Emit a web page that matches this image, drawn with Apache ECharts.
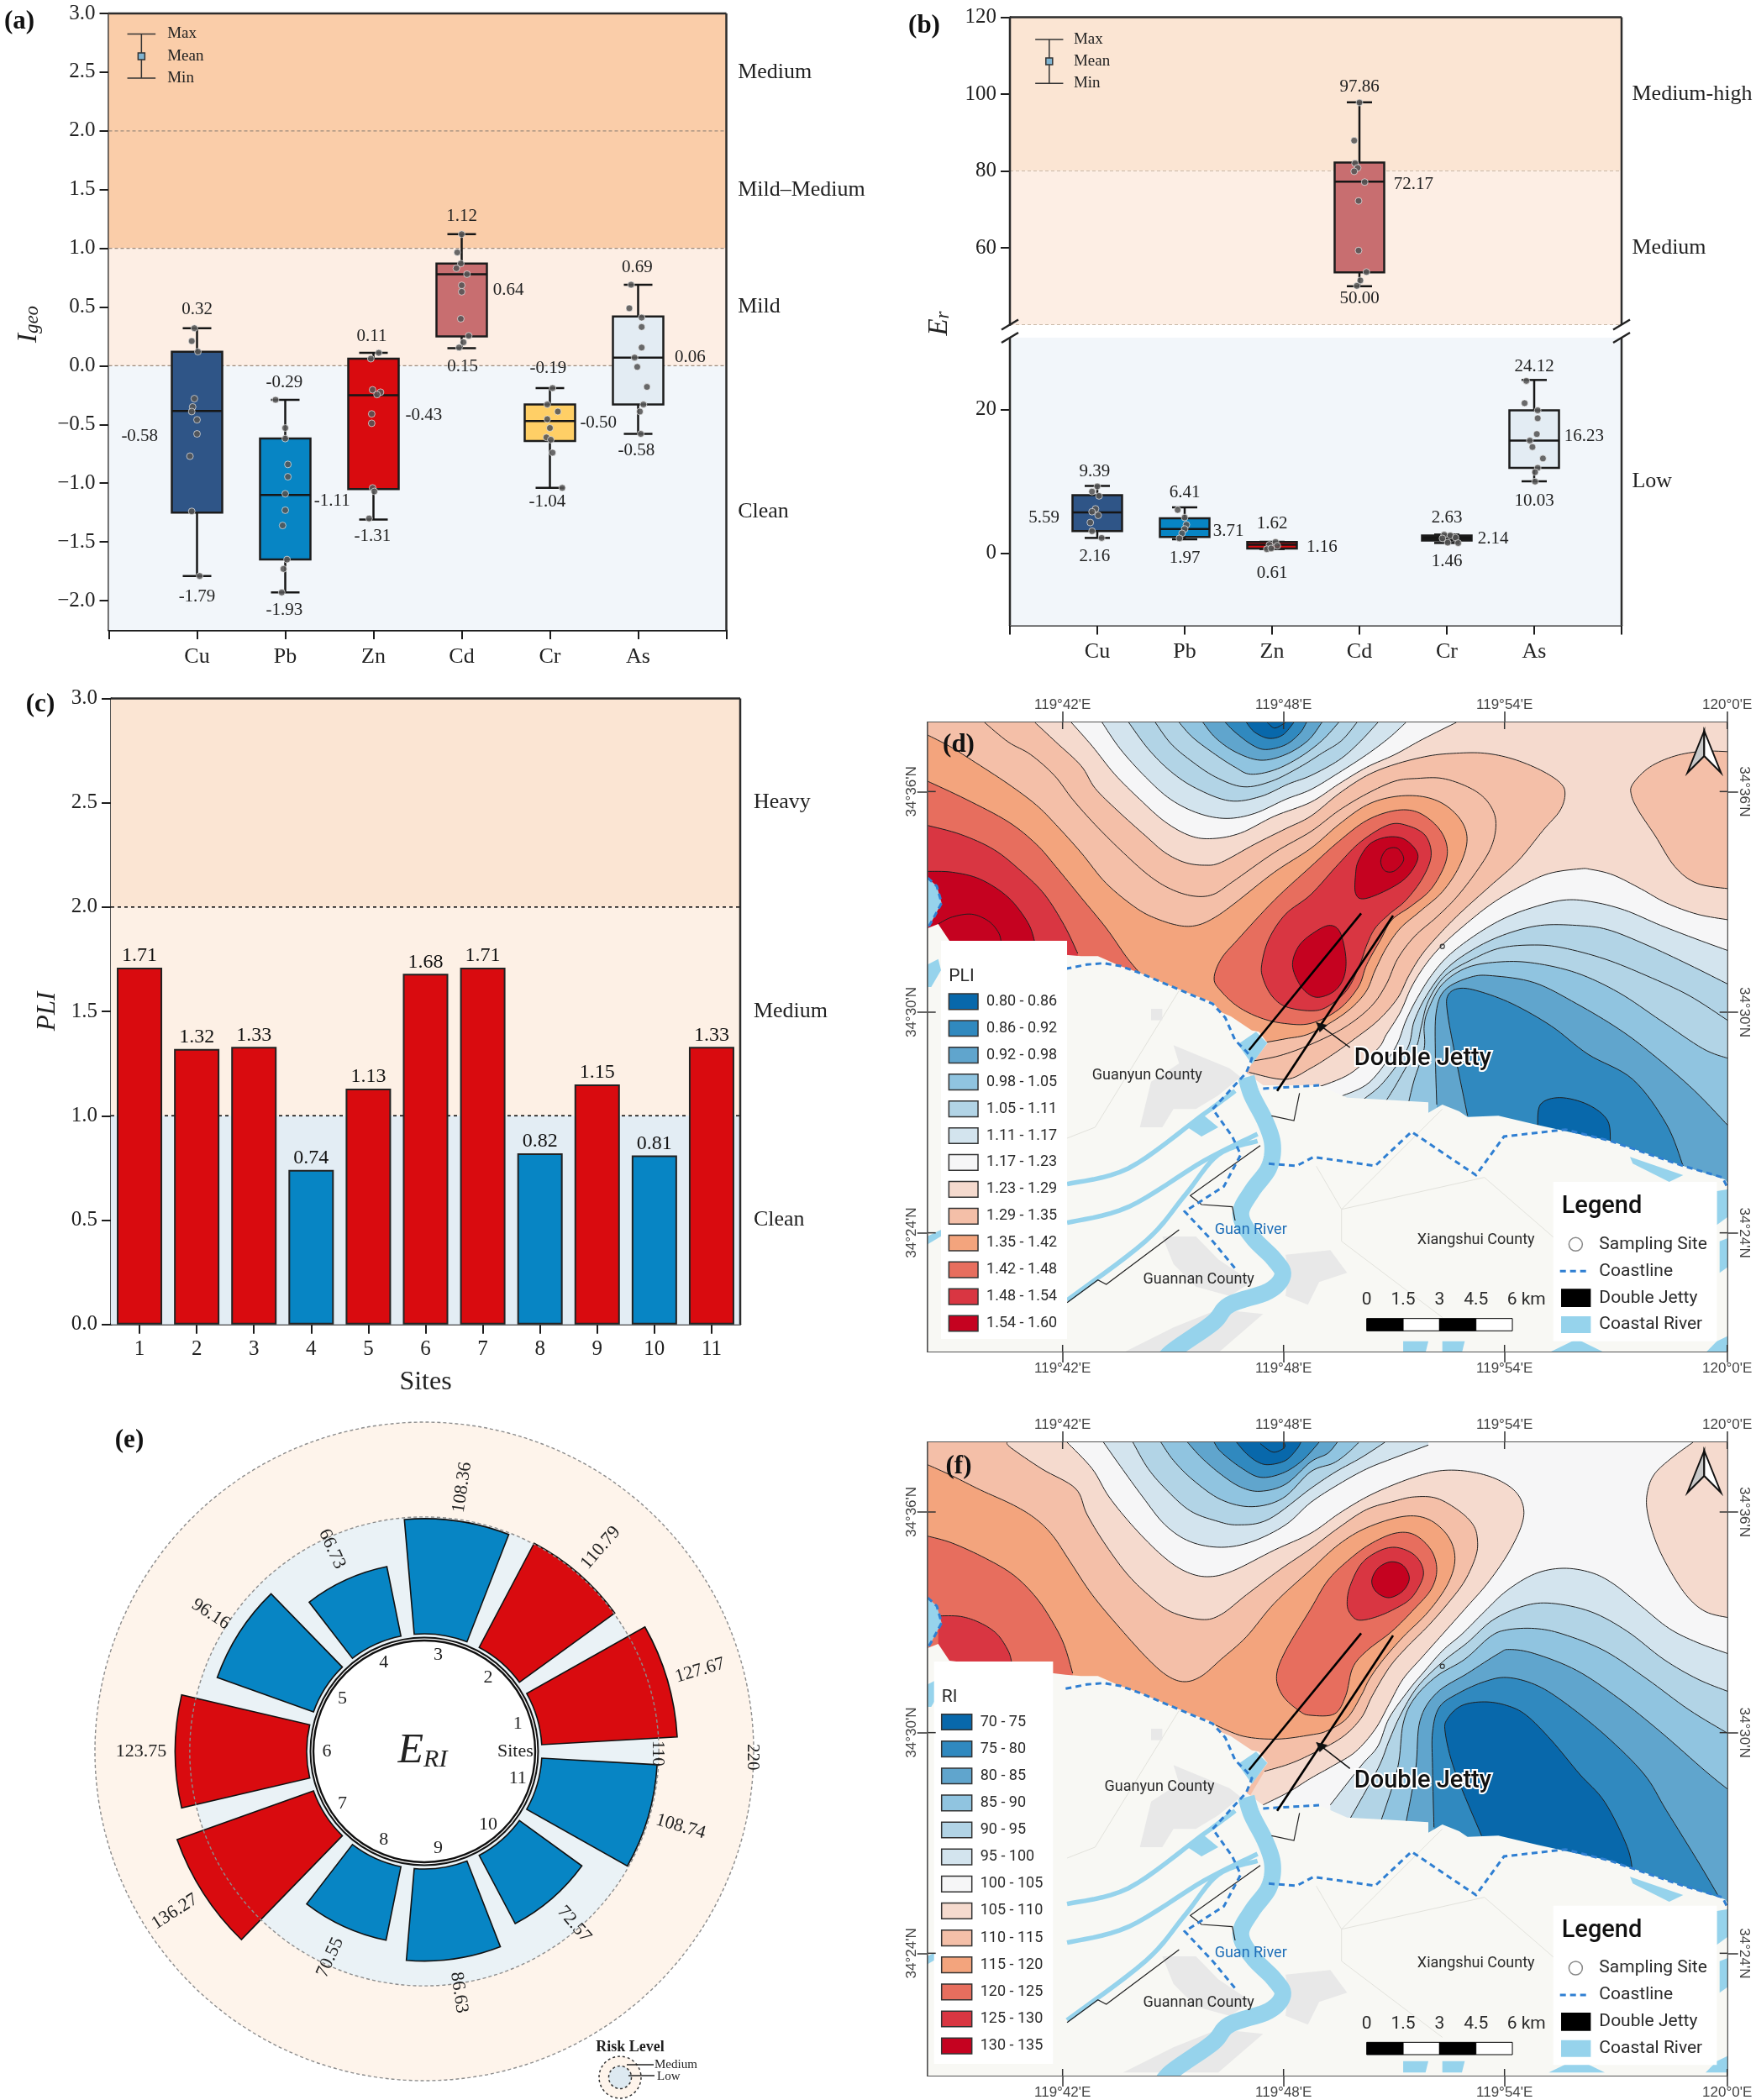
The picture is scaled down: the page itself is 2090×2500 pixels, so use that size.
<!DOCTYPE html>
<html><head><meta charset="utf-8">
<style>html,body{margin:0;padding:0;background:#fff}#c{width:2090px;height:2500px}</style>
<script src="https://cdn.jsdelivr.net/npm/echarts@6/dist/echarts.min.js"></script>
</head><body><div id="c"></div>
<script>
/* ---------- panel (a) Igeo ---------- */
const elements=['Cu','Pb','Zn','Cd','Cr','As'];
const elementColors=['#2F5587','#0785C4','#D90B0F','#C86E70','#FFCF66','#E3ECF3'];
const igeoBoxes=[[1,-1.79,-1.25,-0.385,0.12,0.32],[2,-1.93,-1.65,-1.10,-0.62,-0.29],[3,-1.31,-1.05,-0.25,0.06,0.11],[4,0.15,0.25,0.78,0.87,1.12],[5,-1.04,-0.64,-0.47,-0.33,-0.19],[6,-0.58,-0.33,0.07,0.42,0.69]];
const igeoPoints=[[.97,.32],[.94,.21],[1.01,.12],[.97,-.28],[.95,-.35],[.94,-.39],[1,-.46],[1,-.58],[.92,-.77],[.94,-1.24],[1.03,-1.79],
[1.89,-.29],[2,-.53],[2,-.62],[2.03,-.84],[2.03,-.945],[2,-1.09],[2,-1.23],[1.97,-1.36],[2.02,-1.65],[1.98,-1.73],[1.96,-1.93],
[3.06,.11],[2.97,.06],[2.99,-.205],[3.08,-.225],[3.04,-.245],[2.98,-.41],[2.98,-.49],[2.99,-1.04],[3.01,-1.07],[2.95,-1.30],
[4,1.12],[3.95,.965],[3.99,.87],[3.94,.83],[4.06,.78],[4,.685],[4,.63],[3.99,.40],[4.08,.255],[4.02,.2],[3.97,.155],
[5.03,-.19],[4.97,-.33],[5.09,-.39],[4.97,-.455],[5,-.53],[4.96,-.61],[5.01,-.63],[5.03,-.74],[5.14,-1.04],
[5.92,.69],[5.9,.49],[6.04,.41],[6.04,.33],[6.04,.155],[5.96,.07],[5.99,-.01],[6.1,-.18],[6.06,-.33],[6.02,-.39],[6.03,-.58]];
const igeoLabels=[[1,.478,'0.32'],[1,-1.965,'-1.79'],[.35,-.6,'-0.58'],[1.99,-.14,'-0.29'],[1.99,-2.085,'-1.93'],[2.53,-1.15,'-1.11'],[2.98,.25,'0.11'],[2.99,-1.455,'-1.31'],[3.57,-.42,'-0.43'],[4,1.27,'1.12'],[4.01,-.01,'0.15'],[4.53,.64,'0.64'],[4.98,-.025,'-0.19'],[4.97,-1.16,'-1.04'],[5.55,-.49,'-0.50'],[5.99,.84,'0.69'],[5.98,-.72,'-0.58'],[6.59,.07,'0.06']];
const igeoLevels=[[7.13,2.5,'Medium'],[7.13,1.5,'Mild–Medium'],[7.13,.5,'Mild'],[7.13,-1.24,'Clean']];
const igeoBands=[[1,3,'#FACDA9'],[0,1,'#FDEEE4'],[-2.25,0,'#F2F6FA']];
const igeoTicks=[-2,-1.5,-1,-.5,0,.5,1,1.5,2,2.5,3];
const igeoMinor=[-1.75,-1.25,-.75,-.25,.25,.75,1.25,1.75,2.25,2.75];

/* ---------- panel (b) Er ---------- */
const erBoxHigh=[[4,50,53.6,77.2,82.2,97.86]];
const erBoxHighColors=['#C86E70'];
const erBoxLow=[[1,2.16,3.1,5.7,8.1,9.39],[2,1.97,2.3,3.4,4.9,6.41],[3,.61,.7,1.2,1.6,1.62],[5,1.46,1.8,2.1,2.5,2.63],[6,10.03,11.9,15.7,19.9,24.12]];
const erBoxLowColors=['#2F5587','#0785C4','#D90B0F','#141414','#E3ECF3'];
const erPointsHigh=[[4,97.8],[3.94,87.9],[3.95,82],[3.98,80.8],[3.94,79.9],[4.06,77.1],[3.99,72.2],[3.99,59.3],[4.08,53.7],[4.01,51.5],[3.97,50.1]];
const erPointsLow=[[1,9.32],[.94,8.6],[1.02,8],[.98,6.2],[.94,5.8],[1.01,5.3],[.92,4.3],[.94,3.1],[1.05,2.16],
[1.92,6.05],[2,5],[2.02,4],[2,3.4],[1.97,2.8],[1.94,2.1],
[3.04,1.6],[2.97,1.2],[3.06,1.07],[2.94,.6],[2.99,.7],
[4.97,2.6],[5.04,2.5],[4.95,2.1],[5.1,2.2],[5.01,1.5],[5.13,1.45],
[5.91,24],[5.89,20.9],[6.04,19.9],[6.04,18.8],[6.03,16.6],[5.95,15.7],[5.98,14.8],[6.1,13.2],[6.04,11.9],[6.01,11.3],[6.01,10]];
const erLabelsLow=[[.97,11.4,'9.39'],[.97,-.47,'2.16'],[.39,5,'5.59'],[2,8.43,'6.41'],[2,-.6,'1.97'],[2.5,3.09,'3.71'],[3,4.15,'1.62'],[3,-2.73,'0.61'],[3.57,.83,'1.16'],[5,4.93,'2.63'],[5,-1.07,'1.46'],[5.53,2.08,'2.14'],[6,26,'24.12'],[6,7.24,'10.03'],[6.57,16.26,'16.23']];
const erLabelsHigh=[[4,101.8,'97.86'],[4,46.7,'50.00'],[4.62,76.5,'72.17']];
const erLevelsHigh=[[7.12,100,'Medium-high'],[7.12,60,'Medium']];
const erLevelsLow=[[7.12,10,'Low']];
const erBandsHigh=[[80,120,'#FBE5D3'],[40,80,'#FDEEE4']];
const erBandsLow=[[-10,30,'#F2F6FA']];

/* ---------- panel (c) PLI ---------- */
const sites=['1','2','3','4','5','6','7','8','9','10','11'];
const pliValues=[1.71,1.32,1.33,.74,1.13,1.68,1.71,.82,1.15,.81,1.33];
const pliBands=[[2,3,'#FBE5D3'],[1,2,'#FDF0E5'],[0,1,'#E3EDF4']];
const pliLevels=[[10,2.5,'Heavy'],[10,1.5,'Medium'],[10,.5,'Clean']];
const RED='#D90B0F',BLUE='#0785C4';

/* ---------- panel (e) ERI ---------- */
const eriValues=[127.67,110.79,108.36,66.73,96.16,123.75,136.27,70.55,86.63,72.57,108.74];
const eriLowLimit=110, eriOuter=199.2;

/* ---------- panels (d)(f) contour maps: positions are map units ---------- */
const pliRanges=['0.80 - 0.86','0.86 - 0.92','0.92 - 0.98','0.98 - 1.05','1.05 - 1.11','1.11 - 1.17','1.17 - 1.23','1.23 - 1.29','1.29 - 1.35','1.35 - 1.42','1.42 - 1.48','1.48 - 1.54','1.54 - 1.60'];
const riRanges=['70 - 75','75 - 80','80 - 85','85 - 90','90 - 95','95 - 100','100 - 105','105 - 110','110 - 115','115 - 120','120 - 125','125 - 130','130 - 135'];
const ramp=['#0868AB','#3089BF','#60A5CD','#90C4E0','#B2D4E6','#D3E4EE','#F6F6F7','#F5DACE','#F4BFA8','#F3A47D','#E76E5E','#D93642','#C50220'];
const lonTicks=[[494,"119°42'E"],[1283,"119°48'E"],[2072,"119°54'E"],[2867,"120°0'E"]];
const latTicksD=[[262,"34°36'N"],[1050,"34°30'N"],[1838,"34°24'N"]];
const latTicksF=[[264,"34°36'N"],[1052,"34°30'N"],[1840,"34°24'N"]];

const land=[[0,760],[12,750],[50,735],[90,795],[505,845],[560,850],[620,850],[700,885],[770,910],[900,965],[1030,1015],[1060,1050],[1095,1065],[1170,1115],[1195,1120],[1226,1160],[1170,1233],[1150,1266],[1210,1311],[1410,1311],[1510,1355],[1650,1363],[1800,1372],[1800,1409],[1850,1380],[1910,1404],[1940,1424],[2050,1420],[2190,1453],[2450,1510],[2710,1599],[2860,1648],[2884,1680],[2900,2320],[0,2320]];
const riverMain=[[1150,1282],[1170,1347],[1220,1445],[1244,1526],[1230,1607],[1170,1689],[1130,1770],[1170,1851],[1250,1933],[1280,1989],[1230,2046],[1090,2095],[1030,2160],[890,2258],[850,2300]];
const riverBranches=[[[1110,1331],[990,1420],[730,1607],[510,1664]],[[1190,1485],[1000,1580],[730,1745],[510,1802]],[[1190,1510],[1050,1559],[930,1705],[790,1868],[510,2079]]];
const waterPatches=[[[1120,1165],[1185,1120],[1225,1160],[1170,1235]],[[12,570],[45,600],[62,660],[30,720],[12,750],[0,750],[0,570]],[[12,880],[50,860],[60,900],[25,960],[12,960]],[[940,1461],[1000,1420],[1050,1461],[990,1494]],[[2520,1567],[2710,1632],[2660,1656],[2530,1591]],[[1710,2225],[1800,2225],[1790,2266],[1710,2266]],[[1850,2225],[1930,2225],[1920,2266],[1850,2266]],[[2830,1689],[2884,1680],[2884,1770],[2830,1810]],[[2840,1868],[2884,1851],[2884,1950],[2840,1981]],[[2830,2225],[2884,2200],[2884,2266],[2790,2266]],[[2230,2266],[2330,2217],[2430,2266]],[[10,1851],[60,1827],[60,1850],[10,1880]]];
const builtUp=[[[890,1168],[1090,1250],[1130,1282],[1050,1347],[970,1396],[890,1396],[850,1461],[770,1461],[810,1298],[910,1233]],[[810,1038],[850,1038],[850,1079],[810,1079]],[[850,1851],[970,1851],[1050,1933],[1170,2014],[1090,2063],[970,2030],[890,1949]],[[1290,1916],[1450,1900],[1510,1981],[1410,2014],[1370,2095],[1290,2063],[1300,1981]],[[1050,2111],[1210,2128],[1050,2266],[710,2266],[890,2176]]];
const roads=[[[910,973],[610,1461]],[[1850,1396],[1490,1754],[1490,1868],[1850,2140]],[[1490,1754],[2000,1640],[2300,1900],[2550,2100]],[[610,1461],[510,1500]],[[1400,1600],[1490,1754]]];
const coastDashes=[[[505,895],[580,880],[640,875],[700,885],[770,910],[900,965],[1030,1020],[1075,1070],[1110,1150],[1150,1190],[1170,1215],[1150,1266],[1030,1396],[1100,1494],[1130,1559],[1070,1672],[930,1762],[1030,1868],[1110,1965]],[[1210,1323],[1410,1311]],[[1230,1591],[1330,1599],[1390,1567],[1610,1599],[1740,1477],[1970,1632],[2070,1494],[2290,1469],[2450,1510],[2710,1599],[2850,1640],[2870,1680]],[[12,570],[45,600],[62,660],[30,720],[12,750]]];
const boundaries=[[[1340,1339],[1320,1437],[1240,1420]],[[1200,1526],[950,1705],[990,1737],[1100,1745],[1110,1794]],[[910,1827],[650,2022],[620,2006],[510,2087]]];
const jetties=[[[1560,697],[1160,1185]],[[1674,705],[1260,1331]]];
const scaleMarks=[[1580,'0'],[1710,'1.5'],[1840,'3'],[1970,'4.5'],[2150,'6 km']];

/* contour layers: [ramp index, contour line, closing path or null when the contour is a closed loop] */
const pliContours=[
 [8,[[2880,120],[2780,118],[2680,135],[2590,175],[2530,235],[2525,275],[2550,330],[2610,420],[2680,530],[2760,590],[2880,610]],[[2950,610],[2950,120]]],
 [8,[[395,15],[470,85],[560,170],[610,250],[690,330],[790,420],[860,480],[930,515],[1000,525],[1060,515],[1180,450],[1290,395],[1380,350],[1480,270],[1580,205],[1680,165],[1800,135],[1900,125],[2000,125],[2100,145],[2200,185],[2270,230],[2288,270],[2270,330],[2210,400],[2120,510],[2020,600],[1920,690],[1850,760],[1780,840],[1730,920],[1690,1000],[1620,1080],[1530,1150],[1460,1200],[1380,1250],[1290,1290],[1160,1265]],[[1100,1400],[-20,1400],[-20,-20],[395,-20]]],
 [8,[[215,15],[300,85],[380,130],[465,205],[530,290],[610,380],[700,470],[800,560],[880,610],[960,635],[1030,630],[1100,585],[1250,480],[1380,405],[1480,330],[1580,270],[1680,225],[1760,215],[1850,215],[1940,245],[2000,285],[2035,340],[2040,400],[2020,470],[1970,550],[1900,640],[1830,710],[1750,780],[1690,860],[1650,950],[1595,1030],[1500,1105],[1380,1165],[1270,1205],[1170,1225]],[[1100,1400],[-20,1400],[-20,-20],[215,-20]]],
 [9,[[12,60],[90,100],[170,150],[300,235],[400,310],[470,380],[560,480],[650,590],[760,680],[840,720],[920,742],[980,738],[1040,710],[1110,660],[1250,550],[1380,465],[1480,380],[1580,310],[1680,280],[1780,280],[1860,310],[1920,370],[1938,440],[1910,530],[1850,620],[1770,690],[1700,750],[1650,820],[1610,900],[1575,980],[1500,1055],[1380,1125],[1290,1145],[1205,1160]],[[1190,1200],[-20,1300],[-20,60]]],
 [10,[[12,225],[150,290],[300,370],[400,450],[470,530],[560,640],[650,750],[720,850],[765,905]],[[765,1000],[-20,1000],[-20,225]]],
 [11,[[12,383],[130,415],[250,470],[350,550],[430,630],[500,740],[548,840]],[[548,950],[-20,950],[-20,383]]],
 [12,[[12,547],[100,550],[200,575],[300,640],[370,730],[395,800]],[[395,900],[-20,900],[-20,547]]],
 [12,[[50,735],[100,710],[170,700],[230,725],[265,765],[275,800]],[[275,900],[50,900]]],
 [10,[[1035,930],[1060,860],[1120,790],[1250,650],[1380,530],[1480,440],[1580,365],[1680,330],[1760,335],[1830,385],[1865,450],[1860,520],[1810,610],[1740,670],[1670,720],[1630,790],[1580,880],[1550,960],[1480,1040],[1380,1090],[1285,1090],[1200,1070],[1120,1030],[1060,975]],null],
 [11,[[1205,880],[1230,790],[1290,700],[1380,630],[1480,520],[1560,440],[1660,380],[1730,385],[1790,420],[1810,490],[1780,570],[1720,650],[1660,700],[1610,750],[1580,810],[1555,880],[1510,970],[1440,1030],[1380,1045],[1290,1030],[1240,990],[1210,930]],null],
 [12,[[1540,560],[1550,510],[1590,450],[1650,425],[1710,430],[1755,470],[1760,510],[1720,570],[1650,615],[1570,645],[1540,625]],null],
 [12,[[1630,510],[1650,470],[1690,465],[1712,505],[1680,545],[1645,545]],null],
 [12,[[1315,880],[1340,810],[1400,760],[1450,740],[1485,765],[1505,850],[1500,920],[1470,970],[1420,995],[1380,990],[1340,950]],null],
 [6,[[525,15],[600,100],[680,200],[770,290],[860,370],[950,420],[1030,430],[1130,410],[1250,350],[1380,300],[1480,235],[1580,175],[1680,130],[1780,75],[1900,15]],[[1900,-20],[525,-20]]],
 [5,[[635,15],[700,110],[790,210],[880,290],[980,340],[1080,358],[1180,340],[1290,290],[1380,255],[1480,195],[1580,130],[1660,70],[1720,15]],[[1720,-20],[635,-20]]],
 [4,[[730,15],[800,110],[880,190],[970,250],[1090,295],[1200,280],[1300,235],[1380,205],[1480,150],[1550,90],[1620,15]],[[1620,-20],[730,-20]]],
 [4,[[825,15],[880,90],[950,150],[1040,210],[1140,245],[1240,225],[1340,175],[1420,125],[1490,80],[1545,15]],[[1545,-20],[825,-20]]],
 [3,[[910,15],[960,70],[1040,130],[1110,175],[1165,200],[1250,185],[1340,140],[1420,80],[1480,15]],[[1480,-20],[910,-20]]],
 [2,[[995,15],[1040,70],[1110,120],[1200,150],[1290,130],[1370,80],[1420,15]],[[1420,-20],[995,-20]]],
 [1,[[1075,15],[1110,50],[1170,95],[1220,112],[1290,95],[1340,55],[1365,15]],[[1365,-20],[1075,-20]]],
 [0,[[1150,15],[1180,50],[1230,72],[1280,60],[1320,15]],[[1320,-20],[1150,-20]]],
 [0,[[1225,15],[1250,35],[1280,22],[1290,15]],[[1290,-20],[1225,-20]]],
 [6,[[2870,720],[2760,700],[2650,660],[2560,610],[2460,560],[2380,540],[2340,538],[2230,555],[2130,600],[2030,660],[1940,730],[1850,810],[1790,880],[1740,960],[1700,1050],[1650,1130],[1620,1180],[1520,1270],[1400,1320]],[[1400,1500],[2950,2100],[2950,720]]],
 [5,[[2870,830],[2760,790],[2630,740],[2500,685],[2380,655],[2280,650],[2160,680],[2060,720],[1960,780],[1870,850],[1810,920],[1760,1000],[1720,1080],[1680,1180],[1590,1300],[1490,1350]],[[1490,1500],[2950,2100],[2950,830]]],
 [4,[[2870,950],[2730,880],[2580,810],[2440,755],[2330,740],[2200,740],[2080,770],[1970,820],[1870,890],[1800,980],[1750,1080],[1725,1180],[1640,1300],[1570,1360]],[[1570,1500],[2950,2100],[2950,950]]],
 [4,[[2870,1080],[2730,990],[2580,920],[2430,860],[2280,820],[2180,810],[2060,820],[1960,860],[1860,920],[1800,1010],[1775,1100],[1755,1180],[1690,1300],[1650,1365]],[[1650,1500],[2950,2100],[2950,1080]]],
 [3,[[2870,1215],[2780,1180],[2630,1080],[2480,980],[2330,910],[2180,875],[2060,870],[1940,890],[1850,950],[1800,1040],[1785,1100],[1785,1180],[1750,1290],[1730,1370]],[[1730,1500],[2950,2100],[2950,1215]]],
 [2,[[2884,1470],[2750,1330],[2600,1200],[2480,1110],[2330,1020],[2180,945],[2030,920],[1950,925],[1860,970],[1828,1050],[1825,1200],[1830,1380]],[[1830,1500],[2950,2100],[2950,1470]]],
 [1,[[2710,1600],[2650,1450],[2530,1290],[2370,1200],[2240,1100],[2100,1020],[1980,975],[1910,965],[1870,990],[1868,1050],[1895,1200],[1940,1420]],[[1940,1550],[2710,1700]]],
 [0,[[2190,1461],[2200,1380],[2270,1355],[2370,1380],[2440,1437],[2450,1520]],[[2190,1520]]]
];
const riContours=[
 [7,[[2745,15],[2670,70],[2610,125],[2585,180],[2580,250],[2605,350],[2650,450],[2720,560],[2790,620],[2880,643]],[[2950,643],[2950,-20],[2745,-20]]],
 [7,[[510,15],[600,110],[660,210],[750,320],[850,420],[930,475],[1010,495],[1100,475],[1250,400],[1380,340],[1480,270],[1580,210],[1680,165],[1780,130],[1860,115],[1950,120],[2040,145],[2110,190],[2140,250],[2130,320],[2080,420],[2010,520],[1940,600],[1860,690],[1780,780],[1710,860],[1660,950],[1610,1040],[1540,1120],[1460,1170],[1380,1215],[1300,1265],[1210,1310]],[[1100,1400],[-20,1400],[-20,-20],[510,-20]]],
 [8,[[295,15],[310,35],[420,110],[540,180],[580,270],[640,370],[720,480],[800,560],[880,620],[990,648],[1060,630],[1150,560],[1270,470],[1380,395],[1480,320],[1580,255],[1680,225],[1750,210],[1830,215],[1910,260],[1960,310],[1975,360],[1970,420],[1930,510],[1870,590],[1800,670],[1720,750],[1660,820],[1600,920],[1560,1000],[1490,1070],[1380,1130],[1300,1165],[1215,1190]],[[1150,1300],[-20,1300],[-20,-20],[295,-20]]],
 [9,[[12,95],[100,135],[200,185],[320,240],[400,290],[460,350],[520,440],[600,560],[700,680],[800,790],[870,850],[930,870],[990,850],[1060,790],[1150,710],[1250,590],[1380,470],[1480,380],[1580,320],[1710,280],[1800,290],[1870,350],[1895,430],[1870,520],[1800,620],[1710,710],[1640,790],[1590,860],[1560,920],[1510,1000],[1440,1045],[1380,1060],[1260,1075],[1140,1065],[1040,1025]],[[1040,1150],[-20,1150],[-20,95]]],
 [10,[[12,350],[100,375],[220,430],[320,490],[400,570],[460,660],[500,740],[530,840]],[[530,950],[-20,950],[-20,350]]],
 [11,[[50,635],[130,637],[200,660],[260,700],[300,760],[312,800]],[[312,900],[50,900]]],
 [10,[[1258,850],[1290,760],[1380,610],[1440,510],[1510,440],[1590,380],[1680,340],[1750,345],[1810,400],[1830,470],[1810,540],[1750,610],[1670,690],[1580,760],[1530,820],[1505,920],[1465,985],[1380,990],[1340,975],[1280,920]],null],
 [11,[[1510,590],[1520,530],[1560,450],[1620,405],[1680,390],[1740,410],[1775,450],[1780,500],[1740,570],[1680,610],[1610,640],[1550,650],[1520,625]],null],
 [12,[[1598,510],[1620,465],[1665,442],[1710,455],[1732,500],[1710,545],[1660,570],[1615,550]],null],
 [5,[[640,15],[700,100],[780,210],[860,310],[950,370],[1060,390],[1170,370],[1290,310],[1380,230],[1480,165],[1580,110],[1680,70],[1800,25]],[[1800,-20],[640,-20]]],
 [4,[[745,15],[800,110],[870,190],[950,260],[1040,295],[1120,310],[1230,290],[1380,180],[1470,120],[1560,70],[1645,15]],[[1645,-20],[745,-20]]],
 [3,[[845,15],[890,80],[960,150],[1060,220],[1170,245],[1280,215],[1380,120],[1460,90],[1510,55],[1552,15]],[[1552,-20],[845,-20]]],
 [2,[[940,15],[990,70],[1060,130],[1130,175],[1200,190],[1290,165],[1380,85],[1440,55],[1475,15]],[[1475,-20],[940,-20]]],
 [1,[[1035,15],[1060,50],[1130,105],[1200,140],[1280,125],[1350,80],[1410,15]],[[1410,-20],[1035,-20]]],
 [0,[[1115,15],[1150,55],[1190,85],[1230,95],[1290,80],[1330,40],[1345,15]],[[1345,-20],[1115,-20]]],
 [0,[[1200,20],[1245,50],[1285,35],[1285,15]],[[1285,-20],[1200,-20]]],
 [5,[[2870,770],[2760,730],[2660,680],[2560,600],[2460,520],[2380,480],[2280,465],[2180,485],[2080,545],[2000,620],[1920,700],[1850,760],[1780,840],[1730,900],[1660,1000],[1620,1100],[1560,1170],[1450,1310]],[[1450,1500],[2950,2100],[2950,770]]],
 [4,[[2870,905],[2760,860],[2640,790],[2510,690],[2380,620],[2240,590],[2140,600],[2030,650],[1940,730],[1850,800],[1760,890],[1700,990],[1660,1080],[1620,1180],[1520,1360]],[[1520,1500],[2950,2100],[2950,905]]],
 [3,[[2870,1055],[2730,970],[2580,860],[2430,760],[2280,700],[2180,680],[2080,685],[2020,710],[1930,790],[1830,850],[1750,930],[1710,1020],[1690,1180],[1630,1370]],[[1630,1500],[2950,2100],[2950,1055]]],
 [2,[[2884,1266],[2790,1190],[2630,1050],[2480,930],[2330,830],[2180,770],[2090,755],[2050,770],[1940,840],[1830,910],[1770,1010],[1755,1180],[1720,1375]],[[1720,1500],[2950,2100],[2950,1266]]],
 [1,[[2860,1678],[2770,1524],[2650,1330],[2570,1200],[2430,1060],[2280,940],[2180,880],[2080,855],[2000,870],[1910,910],[1840,960],[1815,1050],[1815,1180],[1820,1390]],[[1820,1500],[2860,1800]]],
 [0,[[2530,1556],[2510,1460],[2430,1300],[2340,1200],[2240,1080],[2150,990],[2080,955],[2000,942],[1920,955],[1870,1000],[1860,1050],[1895,1190],[1990,1420]],[[1990,1550],[2530,1650]]]
];

/* ---------- helpers ---------- */
const SERIF='"Liberation Serif"',SANS='Roboto';
const font=(s,f=SERIF,w='normal',st='normal')=>`${st} ${w} ${s}px ${f}`;
const base=(xi,yi,z)=>({type:'custom',xAxisIndex:xi,yAxisIndex:yi,z,silent:true,animation:false});
function bandSeries(xi,yi,bands){return Object.assign(base(xi,yi,1),{data:bands.map(b=>[0,b[0],b[1]]),renderItem(p,api){
  const c=p.coordSys,a=api.coord([0,api.value(1)]),b=api.coord([0,api.value(2)]);
  return {type:'rect',shape:{x:c.x,y:b[1],width:c.width,height:a[1]-b[1]},style:{fill:bands[p.dataIndex][2]}};}});}
function hLines(xi,yi,vals,stroke,dash,w){return Object.assign(base(xi,yi,2),{data:vals.map(v=>[0,v]),renderItem(p,api){
  const c=p.coordSys,y=api.coord([0,api.value(1)])[1];
  return {type:'line',shape:{x1:c.x,y1:y,x2:c.x+c.width,y2:y},style:{stroke,lineWidth:w,lineDash:dash}};}});}
function frame(xi,yi,sides,stroke='#2c2c2c',w=2.5){return Object.assign(base(xi,yi,5),{data:[[0,0]],renderItem(p){
  const c=p.coordSys,k=[];const L=(a,b,d,e)=>k.push({type:'line',shape:{x1:a,y1:b,x2:d,y2:e},style:{stroke,lineWidth:w}});
  if(sides.includes('t'))L(c.x,c.y,c.x+c.width,c.y);
  if(sides.includes('r'))L(c.x+c.width,c.y,c.x+c.width,c.y+c.height);
  if(sides.includes('l'))L(c.x,c.y,c.x,c.y+c.height);
  if(sides.includes('b'))L(c.x,c.y+c.height,c.x+c.width,c.y+c.height);
  return {type:'group',children:k};}});}
function boxSeries(xi,yi,rows,colors,bw,cw,medW=2.5){return Object.assign(base(xi,yi,3),{data:rows,renderItem(p,api){
  const x=api.value(0),P=v=>api.coord([x,v]),X=P(0)[0];const [y0,y1,y2,y3,y4]=[1,2,3,4,5].map(i=>P(api.value(i))[1]);
  const ln=(a,b,d,e,w=2.5)=>({type:'line',shape:{x1:a,y1:b,x2:d,y2:e},style:{stroke:'#161616',lineWidth:w}});
  return {type:'group',children:[ln(X,y4,X,y0),ln(X-cw,y4,X+cw,y4),ln(X-cw,y0,X+cw,y0),
   {type:'rect',shape:{x:X-bw,y:y3,width:2*bw,height:y1-y3},style:{fill:colors[p.dataIndex],stroke:'#1c1c1c',lineWidth:2.5}},
   ln(X-bw,y2,X+bw,y2,medW)]};}});}
function textSeries(xi,yi,rows,fnt,align='center',fill='#222',dx=0){return Object.assign(base(xi,yi,6),{clip:false,data:rows.map(r=>[r[0],r[1]]),renderItem(p,api){
  const a=api.coord([api.value(0),api.value(1)]);
  return {type:'text',x:a[0]+dx,y:a[1],style:{text:rows[p.dataIndex][2],font:fnt,fill,textAlign:align,textVerticalAlign:'middle'}};}});}
function glyph(xi,yi,x,half,top,mid,low,tx){return Object.assign(base(xi,yi,6),{data:[[x,mid]],renderItem(p,api){
  const P=(a,b)=>api.coord([a,b]);const a=P(x,top),b=P(x,low),m=P(x,mid),l=P(x-half,top),r=P(x+half,top),l2=P(x-half,low),r2=P(x+half,low);
  const s={stroke:'#333',lineWidth:1.5};const T=(t,v)=>{const q=P(tx,v);return {type:'text',x:q[0],y:q[1],style:{text:t,font:font(19),fill:'#222',textVerticalAlign:'middle'}};};
  return {type:'group',children:[{type:'line',shape:{x1:a[0],y1:a[1],x2:b[0],y2:b[1]},style:s},{type:'line',shape:{x1:l[0],y1:l[1],x2:r[0],y2:r[1]},style:s},{type:'line',shape:{x1:l2[0],y1:l2[1],x2:r2[0],y2:r2[1]},style:s},
   {type:'rect',shape:{x:m[0]-4,y:m[1]-4,width:8,height:8},style:{fill:'#7fb3d0',stroke:'#333',lineWidth:1.5}},T('Max',top),T('Mean',mid),T('Min',low)]};}});}
function dots(xi,yi,pts){return {type:'scatter',xAxisIndex:xi,yAxisIndex:yi,data:pts,symbolSize:8,z:4,silent:true,animation:false,itemStyle:{color:'#555',opacity:.88,borderColor:'rgba(255,255,255,.7)',borderWidth:1}};}
function spline(p,closed){const n=p.length,out=[];const g=i=>closed?p[(i+n)%n]:p[Math.max(0,Math.min(n-1,i))];const m=closed?n:n-1;
  for(let i=0;i<m;i++){const a=g(i-1),b=g(i),c=g(i+1),d=g(i+2);for(let k=0;k<8;k++){const t=k/8,t2=t*t,t3=t2*t;
    out.push([0,1].map(j=>.5*(2*b[j]+(c[j]-a[j])*t+(2*a[j]-5*b[j]+4*c[j]-d[j])*t2+(3*b[j]-a[j]-3*c[j]+d[j])*t3)));}}
  if(!closed)out.push(p[n-1]);return out;}
function mapSeries(xi,yi,cfg){return Object.assign(base(xi,yi,3),{clip:true,data:[[100,100]],renderItem(prm,api){
  const P=q=>api.coord(q),k=[],dy=cfg.dy;
  const poly=(pts,fill,extra)=>k.push({type:'polygon',shape:{points:pts.map(P)},style:Object.assign({fill},extra||{})});
  const pl=(pts,style)=>k.push({type:'polyline',shape:{points:pts.map(P)},style:Object.assign({fill:null},style)});
  const tx=(q,t,f,o)=>{const a=P(q);k.push({type:'text',x:a[0],y:a[1],style:Object.assign({text:t,font:f,fill:'#2b2b2b',textVerticalAlign:'middle'},o||{})});};
  const rc=(x0,y0,x1,y1,fill,st)=>poly([[x0,y0],[x1,y0],[x1,y1],[x0,y1]],fill,st);
  const c=prm.coordSys;
  k.push({type:'rect',shape:{x:c.x,y:c.y,width:c.width,height:c.height},style:{fill:ramp[cfg.baseColor]}});
  cfg.contours.forEach(l=>{const s=spline(l[1].map(P),!l[2]);
    const f=l[2]?s.concat(l[2].map(P)):s;
    k.push({type:'polygon',shape:{points:f},style:{fill:ramp[l[0]]}});
    k.push({type:l[2]?'polyline':'polygon',shape:{points:s},style:{fill:null,stroke:'#1f1f1f',lineWidth:1}});});
  poly(land,'#F8F8F4');
  roads.forEach(r=>pl(r,{stroke:'#E2E2DC',lineWidth:1}));
  builtUp.forEach(b=>poly(b,'#E8E8E8'));
  waterPatches.forEach(w=>poly(w,'#96D3EC'));
  riverBranches.forEach(r=>k.push({type:'polyline',shape:{points:spline(r.map(P),false)},style:{fill:null,stroke:'#96D3EC',lineWidth:5.5}}));
  k.push({type:'polyline',shape:{points:spline(riverMain.map(P),false)},style:{fill:null,stroke:'#96D3EC',lineWidth:20}});
  boundaries.forEach(b=>pl(b,{stroke:'#222',lineWidth:1.2}));
  coastDashes.forEach(b=>pl(b,{stroke:'#2F7FD2',lineWidth:3,lineDash:[7,5]}));
  jetties.forEach(j=>pl(j,{stroke:'#000',lineWidth:2.6}));
  pl([cfg.jetty,[1400,1087]],{stroke:'#111',lineWidth:1.5});
  poly([[1400,1087],[1440,1096],[1412,1122]],'#111');
  {const a=P([1850,815]);k.push({type:'circle',shape:{cx:a[0],cy:a[1],r:2.5},style:{fill:'none',stroke:'#333',lineWidth:1.2}});}
  tx(cfg.guanyun,'Guanyun County',font(18,SANS),{textAlign:'center'});
  tx(cfg.guan,'Guan River',font(18,SANS),{textAlign:'center',fill:'#1F6FB8'});
  tx(cfg.xiangshui,'Xiangshui County',font(18,SANS),{textAlign:'center'});
  tx(cfg.guannan,'Guannan County',font(18,SANS),{textAlign:'center'});
  tx(cfg.dj,'Double Jetty',font(29,SANS,'500'),{textAlign:'center',fill:'#111',stroke:'#fff',lineWidth:4});
  /* range legend */
  rc(cfg.box[0],cfg.box[1],cfg.box[2],cfg.box[3],'#fff');
  tx([cfg.sw[0],cfg.titleY],cfg.title,font(21,SANS));
  cfg.ranges.forEach((t,i)=>{const y=cfg.sw0+i*cfg.swStep;rc(cfg.sw[0],y-28,cfg.sw[1],y+28,ramp[i],{stroke:'#333',lineWidth:1.5});tx([cfg.sw[2],y],t,font(18,SANS));});
  /* right legend */
  rc(2246,1656+dy,2830,2225+dy,'#fff');
  tx([2276,1746+dy],'Legend',font(29,SANS,'500'),{fill:'#111'});
  {const a=P([2326,1879+dy]);k.push({type:'circle',shape:{cx:a[0],cy:a[1],r:8},style:{fill:'#fff',stroke:'#888',lineWidth:1.5}});}
  tx([2410,1879+dy],'Sampling Site',font(21,SANS));
  pl([[2270,1975+dy],[2374,1975+dy]],{stroke:'#2F7FD2',lineWidth:3,lineDash:[7,5]});
  tx([2410,1975+dy],'Coastline',font(21,SANS));
  rc(2274,2038+dy,2380,2103+dy,'#000');tx([2410,2071+dy],'Double Jetty',font(21,SANS));
  rc(2274,2136+dy,2380,2196+dy,'#96D3EC');tx([2410,2165+dy],'Coastal River',font(21,SANS));
  /* scale bar */
  [0,1,2,3].forEach(i=>rc(1580+130*i,2144+dy,1710+130*i,2188+dy,i%2?'#fff':'#000',{stroke:'#000',lineWidth:1}));
  scaleMarks.forEach(s=>tx([s[0],2079+dy],s[1],font(21,SANS),{textAlign:'center'}));
  /* north arrow */
  poly([[2785,45],[2725,195],[2785,135]],'#C9C9C9',{stroke:'#111',lineWidth:2});
  poly([[2785,45],[2845,195],[2785,135]],'#fff',{stroke:'#111',lineWidth:2});
  /* inner tick halves and frame */
  lonTicks.forEach(t=>{const a=P([t[0],0]),x=a[0];k.push({type:'line',shape:{x1:x,y1:c.y,x2:x,y2:c.y+9},style:{stroke:'#333',lineWidth:1.5}},{type:'line',shape:{x1:x,y1:c.y+c.height-9,x2:x,y2:c.y+c.height},style:{stroke:'#333',lineWidth:1.5}});});
  cfg.lat.forEach(t=>{const y=P([0,t[0]])[1];k.push({type:'line',shape:{x1:c.x,y1:y,x2:c.x+10,y2:y},style:{stroke:'#333',lineWidth:1.5}},{type:'line',shape:{x1:c.x+c.width-10,y1:y,x2:c.x+c.width,y2:y},style:{stroke:'#333',lineWidth:1.5}});});
  k.push({type:'rect',shape:{x:c.x,y:c.y,width:c.width,height:c.height},style:{fill:'none',stroke:'#555',lineWidth:2}});
  return {type:'group',children:k};}});}

/* axes */
const minus=v=>v.toFixed(1).replace('-','\u2212');
const axLine={lineStyle:{color:'#1c1c1c',width:2.5}};
const tickSt=(len,vals)=>({show:true,length:len,customValues:vals,lineStyle:{color:'#1c1c1c',width:2}});
const catAxis=(grid,show)=>({type:'value',gridIndex:grid,min:0,max:7,interval:1,splitLine:{show:false},axisLine:Object.assign({show:true,onZero:false},axLine),
  axisTick:show?tickSt(11,[0,1,2,3,4,5,6,7]):{show:false},axisLabel:show?{show:true,customValues:[1,2,3,4,5,6],margin:19,fontFamily:'Liberation Serif',fontSize:26,color:'#222',formatter:v=>elements[v-1]}:{show:false}});
const valAxis=(grid,min,max,ticks,labels,fmt)=>({type:'value',gridIndex:grid,min,max,splitLine:{show:false},axisLine:Object.assign({show:true,onZero:false},axLine),
  axisTick:tickSt(11,ticks),axisLabel:{show:true,customValues:labels,margin:16,fontFamily:'Liberation Serif',fontSize:25,color:'#222',formatter:fmt}});
const minorAxis=(grid,min,max,ticks)=>({type:'value',gridIndex:grid,min,max,splitLine:{show:false},axisLine:{show:false},axisTick:tickSt(6,ticks),axisLabel:{show:false}});
const lonName=v=>(lonTicks.find(t=>t[0]===v)||[0,''])[1];
const mapX=(g,pos)=>({type:'value',gridIndex:g,position:pos,min:11,max:2870,splitLine:{show:false},axisLine:{show:false},
  axisTick:{show:true,length:12,customValues:lonTicks.map(t=>t[0]),lineStyle:{color:'#333',width:1.5}},
  axisLabel:{show:true,customValues:lonTicks.map(t=>t[0]),margin:11,hideOverlap:false,fontFamily:'Liberation Sans',fontSize:17,color:'#444',formatter:lonName}});
const mapY=(g,pos,min,max,lat)=>({type:'value',gridIndex:g,position:pos,min,max,inverse:true,splitLine:{show:false},axisLine:{show:false},
  axisTick:{show:true,length:12,customValues:lat.map(t=>t[0]),lineStyle:{color:'#333',width:1.5}},
  axisLabel:{show:true,customValues:lat.map(t=>t[0]),rotate:pos==='left'?90:-90,margin:10,fontFamily:'Liberation Sans',fontSize:17,color:'#444',formatter:v=>(lat.find(t=>t[0]===v)||[0,''])[1]}});

const polarCenter=[505,2085];
const polarP=(api,c,v,deg)=>{const q=api.coord([v,0]),r=Math.hypot(q[0]-c.cx,q[1]-c.cy),a=deg*Math.PI/180;return [c.cx+r*Math.cos(a),c.cy-r*Math.sin(a),r];};
const stepDeg=360/11;
const option={animation:false,backgroundColor:'#fff',
 grid:[{left:129.5,top:16,width:735,height:734},{left:1202,top:20.5,width:728,height:366},{left:1202,top:402,width:728,height:342.5},{left:132,top:831.4,width:749,height:745.3},{left:1103.7,top:859,width:953,height:751},{left:1103.7,top:1716,width:953,height:756}].map(g=>Object.assign(g,{containLabel:false})),
 polar:{center:polarCenter,radius:[140,392]},
 radiusAxis:{type:'value',min:0,max:eriOuter,show:false},
 angleAxis:{type:'category',data:sites,startAngle:0,clockwise:false,show:false},
 xAxis:[catAxis(0,true),Object.assign(catAxis(1,false),{axisLine:{show:false}}),catAxis(2,true),
  {type:'category',gridIndex:3,data:sites,axisLine:Object.assign({show:true},axLine),axisTick:{show:true,alignWithLabel:true,length:11,lineStyle:{color:'#1c1c1c',width:2}},axisLabel:{margin:17,fontFamily:'Liberation Serif',fontSize:25,color:'#222'},name:'Sites',nameLocation:'middle',nameGap:53,nameTextStyle:{fontFamily:'Liberation Serif',fontSize:32,color:'#222'}},
  mapX(4,'bottom'),mapX(4,'top'),mapX(5,'bottom'),mapX(5,'top')],
 yAxis:[valAxis(0,-2.25,3,igeoTicks,igeoTicks,minus),minorAxis(0,-2.25,3,igeoMinor),
  valAxis(1,40,120,[60,80,100,120],[60,80,100,120],v=>String(v)),valAxis(2,-10,30,[0,20],[0,20],v=>String(v)),
  valAxis(3,0,3,[0,.5,1,1.5,2,2.5,3],[0,.5,1,1.5,2,2.5,3],v=>v.toFixed(1)),
  mapY(4,'left',12,2265,latTicksD),mapY(4,'right',12,2265,latTicksD),mapY(5,'left',12,2280,latTicksF),mapY(5,'right',12,2280,latTicksF),
  minorAxis(1,40,120,[50,70,90,110]),minorAxis(2,-10,30,[10])],
 graphic:{elements:[
  ...[['(a)',23,26],['(b)',1100,31],['(c)',48,839],['(d)',1141,887],['(e)',154,1715],['(f)',1141,1746]].map(l=>({type:'text',x:l[1],y:l[2],z:20,style:{text:l[0],font:font(31,SERIF,'bold'),fill:'#111',textAlign:'center',textVerticalAlign:'middle'}})),
  {type:'text',x:34,y:386,rotation:Math.PI/2,z:20,style:{text:'{i|I}{s|geo}',textAlign:'center',textVerticalAlign:'middle',rich:{i:{font:font(33,SERIF,'normal','italic'),fill:'#222'},s:{font:font(23,SERIF,'normal','italic'),fill:'#222',verticalAlign:'bottom',padding:[10,0,0,0]}}}},
  {type:'text',x:1118,y:385,rotation:Math.PI/2,z:20,style:{text:'{i|E}{s|r}',textAlign:'center',textVerticalAlign:'middle',rich:{i:{font:font(33,SERIF,'normal','italic'),fill:'#222'},s:{font:font(23,SERIF,'normal','italic'),fill:'#222',verticalAlign:'bottom',padding:[10,0,0,0]}}}},
  {type:'text',x:57,y:1204,rotation:Math.PI/2,z:20,style:{text:'PLI',font:font(31,SERIF,'normal','italic'),fill:'#222',textAlign:'center',textVerticalAlign:'middle'}},
  {type:'text',x:503,y:2085,z:20,style:{text:'{i|E}{s|RI}',textAlign:'center',textVerticalAlign:'middle',rich:{i:{font:font(50,SERIF,'normal','italic'),fill:'#222'},s:{font:font(30,SERIF,'normal','italic'),fill:'#222',verticalAlign:'bottom',padding:[16,0,0,0]}}}},
  /* axis-break slashes */
  ...[1202,1930].flatMap(x=>[386.5,402].map(y=>({type:'line',z:20,shape:{x1:x-10,y1:y+6,x2:x+10,y2:y-6},style:{stroke:'#222',lineWidth:2.5}}))),
  /* risk level key */
  {type:'text',x:750,y:2437,z:20,style:{text:'Risk Level',font:font(18,SERIF,'bold'),fill:'#222',textAlign:'center',textVerticalAlign:'middle'}},
  {type:'circle',z:20,shape:{cx:738,cy:2473,r:25},style:{fill:'#FEF4EB',stroke:'#333',lineWidth:1.5,lineDash:[3,3]}},
  {type:'circle',z:20,shape:{cx:738,cy:2473,r:13.5},style:{fill:'#DDE9F1',stroke:'#333',lineWidth:1.5,lineDash:[3,3]}},
  {type:'line',z:20,shape:{x1:746,y1:2458,x2:778,y2:2458},style:{stroke:'#222',lineWidth:1.5}},
  {type:'line',z:20,shape:{x1:748,y1:2471,x2:779,y2:2471},style:{stroke:'#222',lineWidth:1.5}},
  {type:'text',x:779,y:2458,z:20,style:{text:'Medium',font:font(15),fill:'#222',textVerticalAlign:'middle'}},
  {type:'text',x:782,y:2472,z:20,style:{text:'Low',font:font(15),fill:'#222',textVerticalAlign:'middle'}}
 ]},
 series:[
  /* a */
  bandSeries(0,0,igeoBands),hLines(0,0,[0,1,2],'#9c8a7c',[4,3],1.2),boxSeries(0,0,igeoBoxes,elementColors,30,17),dots(0,0,igeoPoints),frame(0,0,'tr'),
  textSeries(0,0,igeoLabels,font(21)),textSeries(0,0,igeoLevels,font(26),'left'),glyph(0,0,.37,.16,2.825,2.636,2.45,.664),
  /* b */
  bandSeries(1,2,erBandsHigh),hLines(1,2,[40,80],'#c9b9a8',[4,3],1.2),boxSeries(1,2,erBoxHigh,erBoxHighColors,29.5,15),dots(1,2,erPointsHigh),frame(1,2,'trl'),
  textSeries(1,2,erLabelsHigh,font(21)),textSeries(1,2,erLevelsHigh,font(26),'left'),glyph(1,2,.45,.16,114.2,108.5,102.8,.73),
  bandSeries(2,3,erBandsLow),boxSeries(2,3,erBoxLow,erBoxLowColors,29.5,15),dots(2,3,erPointsLow),frame(2,3,'rl'),
  textSeries(2,3,erLabelsLow,font(21)),textSeries(2,3,erLevelsLow,font(26),'left'),
  /* c */
  bandSeries(3,4,pliBands),hLines(3,4,[1,2],'#111',[4,4],1.6),
  {type:'bar',xAxisIndex:3,yAxisIndex:4,z:3,barWidth:54,silent:true,data:pliValues.map(v=>({value:v,itemStyle:{color:v>=1?RED:BLUE}})),itemStyle:{borderColor:'#222',borderWidth:2},
   label:{show:true,position:'top',distance:2,fontFamily:'Liberation Serif',fontSize:24,color:'#111',formatter:p=>p.value.toFixed(2)}},
  frame(3,4,'tr'),textSeries(3,4,pliLevels,font(26),'left','#222',50),
  /* d */
  mapSeries(4,5,{dy:0,contours:pliContours,baseColor:7,ranges:pliRanges,title:'PLI',titleY:922,box:[60,795,510,2217],sw:[88,192,222],sw0:1012,swStep:95.8,lat:latTicksD,jetty:[1520,1176],guanyun:[796,1277],guan:[1166,1827],xiangshui:[1970,1864],guannan:[980,2006],dj:[1780,1217]}),
  /* f */
  mapSeries(6,7,{dy:14,contours:riContours,baseColor:6,ranges:riRanges,title:'RI',titleY:925,box:[35,798,460,2235],sw:[62,170,200],sw0:1014,swStep:96.4,lat:latTicksF,jetty:[1520,1180],guanyun:[840,1246],guan:[1166,1839],xiangshui:[1970,1876],guannan:[980,2017],dj:[1780,1225]}),
  /* e */
  {type:'custom',coordinateSystem:'polar',z:1,silent:true,data:[[0,0]],renderItem(p,api){const c=p.coordSys,m=polarP(api,c,eriOuter,0)[2],l=polarP(api,c,eriLowLimit,0)[2];
    return {type:'group',children:[{type:'circle',shape:{cx:c.cx,cy:c.cy,r:m},style:{fill:'#FEF4EB'}},{type:'circle',shape:{cx:c.cx,cy:c.cy,r:l},style:{fill:'#EAF2F6'}}]};}},
  {type:'bar',coordinateSystem:'polar',z:2,barWidth:'80%',silent:true,data:eriValues.map(v=>({value:v,itemStyle:{color:v>=eriLowLimit?RED:BLUE}})),itemStyle:{borderColor:'#111',borderWidth:1.6}},
  {type:'custom',coordinateSystem:'polar',z:3,silent:true,data:[[0,0]],renderItem(p,api){const c=p.coordSys,k=[];
    const ring=(v,st)=>k.push({type:'circle',shape:{cx:c.cx,cy:c.cy,r:polarP(api,c,v,0)[2]},style:st});
    ring(eriOuter,{fill:'none',stroke:'#8d8d8d',lineWidth:1.4,lineDash:[4,3]});ring(eriLowLimit,{fill:'none',stroke:'#8d8d8d',lineWidth:1.4,lineDash:[4,3]});
    const r0=135.5,r1=132;k.push({type:'circle',shape:{cx:c.cx,cy:c.cy,r:r0},style:{fill:'#fff',stroke:'#111',lineWidth:2}},{type:'circle',shape:{cx:c.cx,cy:c.cy,r:r1},style:{fill:'#fff',stroke:'#111',lineWidth:2.4}});
    const T=(v,deg,t,rot,f)=>{const q=polarP(api,c,v,deg);k.push({type:'text',x:q[0],y:q[1],rotation:rot*Math.PI/180,style:{text:t,font:f,fill:'#222',textAlign:'center',textVerticalAlign:'middle'}});};
    eriValues.forEach((v,i)=>{const d=(i+.5)*stepDeg,rot=d<=90?d:d<270?d-180:d-360;T(v+32,d,v.toFixed(2),rot,font(22));T(-19,d,sites[i],0,font(22));});
    T(-25,0,'Sites',0,font(22));T(109,-.5,'110',-90,font(21));T(198,-1,'220',-90,font(21));
    return {type:'group',children:k};}}
 ]};
const chart=echarts.init(document.getElementById('c'),null,{renderer:'canvas',width:2090,height:2500});
chart.setOption(option);
</script></body></html>
